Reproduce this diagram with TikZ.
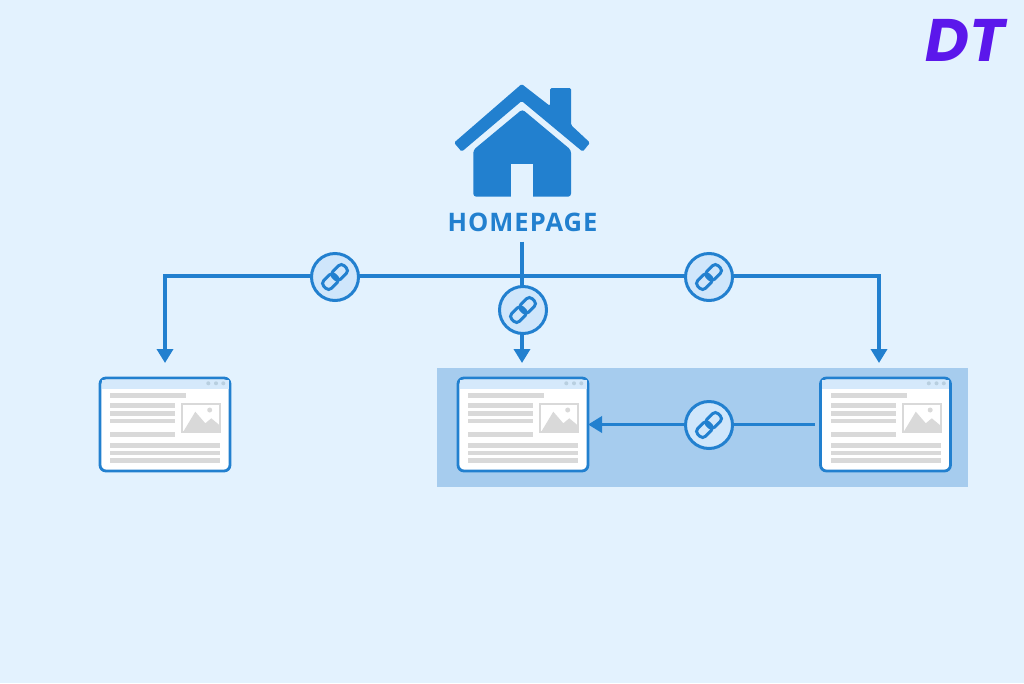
\documentclass[tikz,border=0pt]{standalone}
\usepackage{fontspec}
\setmainfont{Open Sans}
\newfontfamily\logofont{Poppins}
\newfontfamily\labelfont[LetterSpace=4]{Open Sans}
\usetikzlibrary{positioning}
\usetikzlibrary{arrows.meta}

\definecolor{skyback}{HTML}{E3F2FE}
\definecolor{bandback}{HTML}{A6CCEE}
\definecolor{linkblue}{HTML}{2280CF}
\definecolor{linkfill}{HTML}{CFE6FB}
\definecolor{barblue}{HTML}{D5E9FB}
\definecolor{dotgrey}{HTML}{B8CFE0}
\definecolor{bargrey}{HTML}{D9D9D9}
\definecolor{logopurple}{HTML}{5B17EB}

\begin{document}
\begin{tikzpicture}[x=1pt,y=-1pt]

\tikzset{linkline/.style={draw=linkblue, line width=3.6pt},
	linktip/.style={-{Triangle[length=14pt,width=16pt]}},
	webpage/.style={
		draw=linkblue, line width=2.8pt, fill=white,
		rounded corners=6pt,
		minimum width=130pt, minimum height=93pt,
		anchor=north west, inner sep=0pt, outer sep=0pt
	},
	linkbadge/.style={
		circle, draw=linkblue, line width=3pt, fill=linkfill,
		minimum size=47pt, inner sep=0pt
	},
	graybar/.style={fill=bargrey},
	chain/.pic={
		\draw[linkblue, line width=3pt, rounded corners=4pt, rotate=45]
			(-14.5,-5.5) rectangle (1.5,5.5)
			(-1.5,-5.5) rectangle (14.5,5.5);
	},
	pagedetail/.pic={
		\fill[barblue] (1.5,1.5) rectangle (128.5,11);
		\foreach \dotx in {108.3,116,123.3}
			\fill[dotgrey] (\dotx,5.3) circle (2);
		\fill[graybar] (10,15) rectangle (86,20);
		\foreach \bary in {25,33,40.5}
			\fill[graybar] (10,\bary) rectangle (75,\bary+4.5);
		\fill[graybar] (10,54) rectangle (75,59);
		\foreach \bary in {65,72.5,80}
			\fill[graybar] (10,\bary) rectangle (120,\bary+4.5);
		\draw[bargrey, line width=2pt, fill=white] (82,26) rectangle (120,54);
		\fill[bargrey] (83.7,53) -- (95.3,33.7) -- (105.3,45.3) -- (111.3,40.3) -- (119.3,47) -- (119.3,53) -- cycle;
		\fill[bargrey] (109.7,32) circle (2.5);
	}
}

% background
\fill[skyback] (0,0) rectangle (1024,683);
\node[fill=bandback, anchor=north west, minimum width=531pt, minimum height=119pt, inner sep=0pt, outer sep=0pt] (band) at (436.5,368) {};

% house
\fill[linkblue, rounded corners=1.5pt]
	(521.7,84) -- (550,106) -- (550,88) -- (571,88) -- (571,125) -- (590,142.7)
	-- (582.7,151.7) -- (521.7,101) -- (461.7,151.7) -- (454,142.7) -- cycle;
\fill[linkblue, rounded corners=3pt]
	(522.3,109.3) -- (571,150) -- (571,196.7) -- (473.3,196.7) -- (473.3,150) -- cycle;
\fill[skyback] (511,164.3) rectangle (533.3,197.5);
\node[text=linkblue, font=\labelfont\fontsize{25.5}{27}\selectfont\bfseries, inner sep=0pt] (homelabel) at (522.5,222) {HOMEPAGE};
\node[text=logopurple, font=\logofont\fontsize{60}{60}\selectfont\bfseries\itshape, inner sep=0pt] (logo) at (965,40) {DT};

% pages
\node[webpage] (pageleft) at (100,378) {};
\node[webpage] (pagemid) at (458,378) {};
\node[webpage] (pageright) at (820.5,378) {};
\pic at (pageleft.north west) {pagedetail};
\pic at (pagemid.north west) {pagedetail};
\pic at (pageright.north west) {pagedetail};

% connectors
\coordinate (hub) at (522,276);
\draw[linkline] (homelabel.south -| hub) ++(0,10) -- (hub);
\draw[linkline, linktip, shorten >=15pt] (hub) -| (pageleft.north);
\draw[linkline, linktip, shorten >=15pt] (hub) -| ([xshift=-6.5pt]pageright.north);
\draw[linkline, linktip, shorten >=15pt] (hub) -- (hub |- pagemid.north);
\draw[linkline, linktip, shorten <=6pt] (pageright.west) -- (pagemid.east);

% link badges
\node[linkbadge] (linkleft) at (335,277) {};
\node[linkbadge] (linkcentre) at (523,310) {};
\node[linkbadge] (linkright) at (709,277) {};
\node[linkbadge] (linkband) at (709,425) {};
\foreach \badge in {linkleft,linkcentre,linkright,linkband}
	\pic at (\badge) {chain};

\end{tikzpicture}
\end{document}
